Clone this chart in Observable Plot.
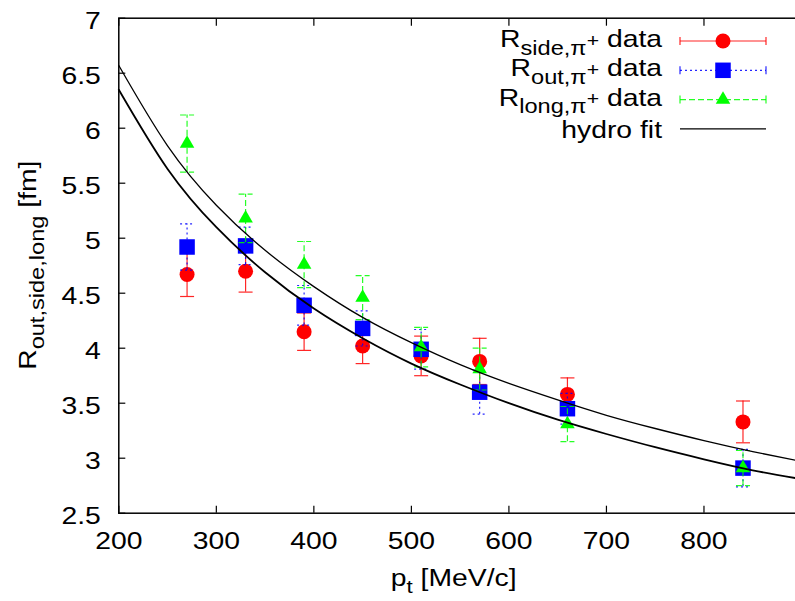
<!DOCTYPE html>
<html><head><meta charset="utf-8">
<script src="https://cdn.jsdelivr.net/npm/d3@7"></script>
<script src="https://cdn.jsdelivr.net/npm/@observablehq/plot@0.6"></script>
<style>
html,body{margin:0;padding:0;background:#fff;overflow:hidden}
#chart svg{display:block}
</style></head><body><div id="chart"></div>
<script>
// ---- data ----
const pt = [270, 330, 390, 450, 510, 570, 660, 840];
const rSide = [4.67, 4.70, 4.15, 4.02, 3.93, 3.88, 3.58, 3.33];
const rSideErr = [0.20, 0.19, 0.17, 0.16, 0.18, 0.21, 0.15, 0.19];
const rOut = [4.92, 4.93, 4.39, 4.18, 3.99, 3.60, 3.45, 2.91];
const rOutErr = [0.21, 0.17, 0.18, 0.16, 0.18, 0.20, 0.14, 0.17];
const rLong = [5.86, 5.18, 4.76, 4.46, 4.01, 3.81, 3.31, 2.91];
const rLongErr = [0.26, 0.22, 0.21, 0.20, 0.18, 0.19, 0.16, 0.16];
const fitPt = [200, 250, 300, 350, 400, 450, 500, 550, 600, 650, 700, 750, 800, 850, 900];
const fitUpper = [6.57, 5.84, 5.30, 4.89, 4.56, 4.28, 4.05, 3.85, 3.68, 3.53, 3.39, 3.27, 3.16, 3.06, 2.97];
const fitLower = [6.35, 5.63, 5.10, 4.69, 4.36, 4.09, 3.86, 3.67, 3.50, 3.35, 3.22, 3.10, 2.99, 2.89, 2.81];
const xTicks = [200, 300, 400, 500, 600, 700, 800];
const yTicks = [2.5, 3, 3.5, 4, 4.5, 5, 5.5, 6, 6.5, 7];
const seriesNames = ["side", "out", "long"];
const seriesLabels = [["side,π", "+"], ["out,π", "+"], ["long,π", "+"]];
const fitLabel = "hydro fit";

// ---- styles ----
const styles = {
  side: {color: "#ff0000", dash: null, symbol: "circle", r: 7.5},
  out: {color: "#0000ff", dash: "2,3", symbol: "square", r: 8.75},
  long: {color: "#00ff00", dash: "6,3", symbol: "triangle", r: 5.4}
};
const values = {side: [rSide, rSideErr], out: [rOut, rOutErr], long: [rLong, rLongErr]};
const rows = {};
for (const s of seriesNames) {
  rows[s] = pt.map((x, i) => ({x, y: values[s][0][i], e: values[s][1][i]}));
}
const fitRows = [
  fitPt.map((x, i) => ({x, y: fitUpper[i]})),
  fitPt.map((x, i) => ({x, y: fitLower[i]}))
];

const capSymbol = {draw(ctx, size) { const r = Math.sqrt(size / Math.PI); ctx.moveTo(-r, 0); ctx.lineTo(r, 0); }};

const marks = [];
for (const s of seriesNames) {
  const st = styles[s];
  const d = rows[s];
  marks.push(Plot.ruleX(d, {x: "x", y1: r => r.y - r.e, y2: r => r.y + r.e, stroke: st.color, strokeWidth: 1.2, strokeDasharray: st.dash, strokeOpacity: 0.85}));
  marks.push(Plot.dot(d, {x: "x", y: r => r.y - r.e, symbol: capSymbol, r: 7, stroke: st.color, fill: "none", strokeWidth: 1.2, strokeDasharray: st.dash, strokeOpacity: 0.85}));
  marks.push(Plot.dot(d, {x: "x", y: r => r.y + r.e, symbol: capSymbol, r: 7, stroke: st.color, fill: "none", strokeWidth: 1.2, strokeDasharray: st.dash, strokeOpacity: 0.85}));
  marks.push(Plot.dot(d, {x: "x", y: "y", symbol: st.symbol, r: st.r, fill: st.color, stroke: "none"}));
}
marks.push(Plot.line(fitRows[0], {x: "x", y: "y", stroke: "black", strokeWidth: 1.3, curve: "natural"}));
marks.push(Plot.line(fitRows[1], {x: "x", y: "y", stroke: "black", strokeWidth: 1.8, curve: "natural"}));
marks.push(Plot.frame({stroke: "black", strokeWidth: 1.5}));
marks.push(Plot.axisX(xTicks, {anchor: "bottom", tickSize: -7, tickPadding: 26, label: null, strokeWidth: 1.2}));
marks.push(Plot.axisX(xTicks, {anchor: "top", tickSize: -7, tickFormat: () => "", label: null, strokeWidth: 1.2}));
marks.push(Plot.axisY(yTicks, {anchor: "left", tickSize: -7, tickPadding: 25, label: null, tickFormat: d => String(d), strokeWidth: 1.2}));
marks.push(Plot.axisY(yTicks, {anchor: "right", tickSize: -7, tickFormat: () => "", label: null, strokeWidth: 1.2}));

const plot = Plot.plot({
  width: 795, height: 601,
  marginLeft: 118.3, marginRight: -6, marginTop: 17.7, marginBottom: 88.3,
  x: {domain: [200, 900], range: [118.3, 801]},
  y: {domain: [2.5, 7], range: [512.7, 17.7]},
  style: {fontFamily: "'Liberation Sans', Arial, sans-serif", fontSize: "24px", color: "black", background: "white", overflow: "hidden"},
  marks
});
document.getElementById("chart").appendChild(plot);

const svg = d3.select(plot);
const SX = 1.18;
svg.selectAll('g[aria-label="x-axis tick label"] text').each(function() {
  const t = d3.select(this); t.attr("transform", (t.attr("transform") || "") + ` scale(${SX},1)`);
});
svg.selectAll('g[aria-label="y-axis tick label"] text').each(function() {
  const t = d3.select(this); t.attr("transform", (t.attr("transform") || "") + ` translate(0,3.5) scale(${SX},1)`);
});

const F = "'Liberation Sans', Arial, sans-serif";
const xs = plot.scale("x"), ys = plot.scale("y");
const cx = (xs.range[0] + xs.range[1]) / 2;
const cy = (ys.range[0] + ys.range[1]) / 2;

// x label
const xl = svg.append("text").attr("font-family", F).attr("font-size", 24).attr("text-anchor", "middle")
  .attr("fill", "black").attr("transform", `translate(${cx - 6},586) scale(${SX},1)`);
xl.append("tspan").text("p");
xl.append("tspan").attr("font-size", 19).attr("dy", 7).text("t");
xl.append("tspan").attr("dy", -7).text(" [MeV/c]");

// y label
const yl = svg.append("text").attr("font-family", F).attr("font-size", 24).attr("text-anchor", "middle")
  .attr("fill", "black").attr("transform", `translate(35.5,${cy}) rotate(-90) scale(${SX},1)`);
yl.append("tspan").text("R");
yl.append("tspan").attr("font-size", 20).attr("dy", 8.5).text("out,side,long");
yl.append("tspan").attr("dy", -8.5).text(" [fm]");

// legend
const lg = svg.append("g");
const rowY = i => 41 + i * 29.3;
const x1 = 680, x2 = 766, xm = 723;
seriesNames.forEach((s, i) => {
  const st = styles[s], y = rowY(i);
  const t = lg.append("text").attr("font-family", F).attr("font-size", 24).attr("text-anchor", "end")
    .attr("fill", "black").attr("transform", `translate(662,${y + 6}) scale(${SX},1)`);
  t.append("tspan").text("R");
  t.append("tspan").attr("font-size", 20).attr("dy", 7.6).text(seriesLabels[i][0]);
  t.append("tspan").attr("font-size", 18).attr("dy", -8).text(seriesLabels[i][1]);
  t.append("tspan").attr("dy", 0.4).text(" data");
  const g = lg.append("g").attr("stroke", st.color).attr("stroke-width", 1.2).attr("stroke-opacity", 0.85);
  g.append("line").attr("x1", x1).attr("x2", x2).attr("y1", y).attr("y2", y).attr("stroke-dasharray", st.dash);
  g.append("line").attr("x1", x1).attr("x2", x1).attr("y1", y - 4).attr("y2", y + 4);
  g.append("line").attr("x1", x2).attr("x2", x2).attr("y1", y - 4).attr("y2", y + 4);
  const sym = {circle: d3.symbolCircle, square: d3.symbolSquare, triangle: d3.symbolTriangle}[st.symbol];
  lg.append("path").attr("d", d3.symbol(sym, Math.PI * st.r * st.r)()).attr("fill", st.color)
    .attr("transform", `translate(${xm},${y})`);
});
{
  const y = rowY(3);
  lg.append("text").attr("font-family", F).attr("font-size", 24).attr("text-anchor", "end")
    .attr("fill", "black").attr("transform", `translate(662,${y + 9.5}) scale(${SX},1)`).text(fitLabel);
  lg.append("line").attr("x1", x1).attr("x2", x2).attr("y1", y).attr("y2", y).attr("stroke", "black").attr("stroke-width", 1.3);
}
</script></body></html>
